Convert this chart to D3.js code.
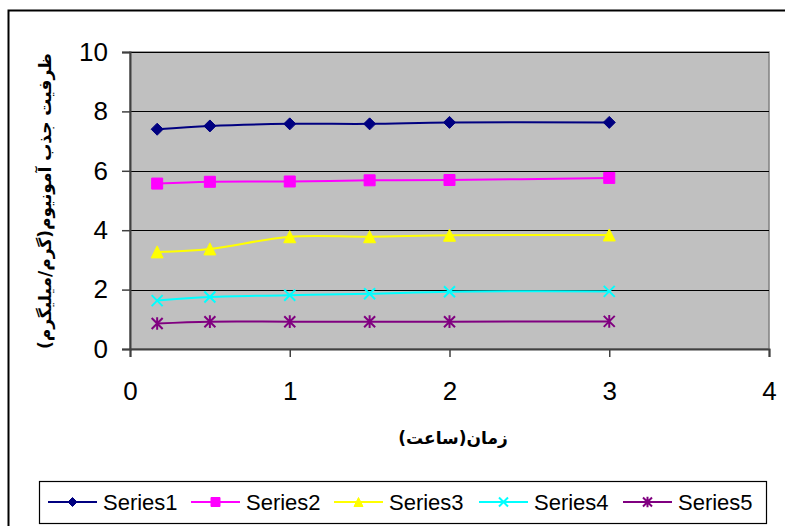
<!DOCTYPE html>
<html>
<head>
<meta charset="utf-8">
<script src="https://cdn.jsdelivr.net/npm/d3@7/dist/d3.min.js"></script>
<style>
  html, body { margin: 0; padding: 0; background: #fff; }
  svg { display: block; }
  text { font-family: "Liberation Sans", Arial, "DejaVu Sans", sans-serif; }
</style>
</head>
<body>
<svg id="chart" width="785" height="526"></svg>
<script>
// Contact time (hours)
const times = [0.17, 0.5, 1, 1.5, 2, 3];
// Ammonium adsorption capacity per series
const series1 = [7.40, 7.51, 7.58, 7.58, 7.63, 7.63];
const series2 = [5.57, 5.63, 5.64, 5.68, 5.69, 5.76];
const series3 = [3.27, 3.37, 3.78, 3.78, 3.83, 3.84];
const series4 = [1.63, 1.75, 1.81, 1.86, 1.93, 1.94];
const series5 = [0.86, 0.92, 0.92, 0.92, 0.92, 0.93];
const seriesNames = ["Series1", "Series2", "Series3", "Series4", "Series5"];
const xTicks = [0, 1, 2, 3, 4];
const yTicks = [0, 2, 4, 6, 8, 10];
const xTitle = "زمان(ساعت)";
const yTitle = "ظرفیت جذب آمونیوم(گرم/میلیگرم)";

const colors = ["#000080", "#FF00FF", "#FFFF00", "#00FFFF", "#800080"];
const shapes = ["diamond", "square", "triangle", "cross", "star"];
const allSeries = [series1, series2, series3, series4, series5];

const svg = d3.select("#chart");

// Outer chart frame (continues past the right and bottom edges)
svg.append("rect")
  .attr("x", 8.5).attr("y", 10.5).attr("width", 900).attr("height", 700)
  .attr("fill", "#fff").attr("stroke", "#000").attr("stroke-width", 2);

const plot = { left: 130, right: 769, top: 52, bottom: 349 };
const x = d3.scaleLinear().domain([0, 4]).range([plot.left, plot.right]);
const y = d3.scaleLinear().domain([0, 10]).range([plot.bottom, plot.top]);

// Plot area
svg.append("rect")
  .attr("x", plot.left).attr("y", plot.top)
  .attr("width", plot.right - plot.left).attr("height", plot.bottom - plot.top)
  .attr("fill", "#C0C0C0").attr("stroke", "#808080").attr("stroke-width", 1.5);

// Horizontal gridlines
svg.append("g").selectAll("line")
  .data(yTicks.filter(d => d > 0))
  .join("line")
  .attr("x1", plot.left).attr("x2", plot.right)
  .attr("y1", d => Math.round(y(d)) + 0.5).attr("y2", d => Math.round(y(d)) + 0.5)
  .attr("stroke", "#000").attr("stroke-width", 1.2);

// Axes
const yAxis = d3.axisLeft(y).tickValues(yTicks).tickFormat(d3.format("d"))
  .tickSize(8).tickPadding(14);
const xAxis = d3.axisBottom(x).tickValues(xTicks).tickFormat(d3.format("d"))
  .tickSize(8).tickPadding(25);

const gy = svg.append("g").attr("transform", `translate(${plot.left},0)`).call(yAxis);
const gx = svg.append("g").attr("transform", `translate(0,${plot.bottom})`).call(xAxis);
[gx, gy].forEach(g => {
  g.select(".domain").attr("stroke", "#404040").attr("stroke-width", 2);
  g.selectAll(".tick line").attr("stroke", "#404040").attr("stroke-width", 1.5);
  g.selectAll(".tick text")
    .attr("fill", "#000")
    .style("font-family", "'Liberation Sans', Arial, sans-serif")
    .style("font-size", "26px");
});

// Axis titles
svg.append("text")
  .attr("x", 453).attr("y", 438)
  .attr("text-anchor", "middle").attr("dominant-baseline", "central")
  .attr("direction", "rtl")
  .style("font-family", "'DejaVu Sans', sans-serif")
  .style("font-size", "17px").style("font-weight", "bold")
  .text(xTitle);

svg.append("text")
  .attr("transform", "translate(45,201) rotate(-90)")
  .attr("text-anchor", "middle").attr("dominant-baseline", "central")
  .style("font-family", "'DejaVu Sans', sans-serif")
  .style("font-size", "17px").style("font-weight", "bold")
  .text(yTitle);

// Marker paths centered on (0,0)
function markerPath(shape, r) {
  switch (shape) {
    case "diamond": return `M0,${-r}L${r},0L0,${r}L${-r},0Z`;
    case "square": return `M${-r},${-r}H${r}V${r}H${-r}Z`;
    case "triangle": return `M0,${-r}L${r},${r}L${-r},${r}Z`;
    case "cross": return `M${-r},${-r}L${r},${r}M${-r},${r}L${r},${-r}`;
    case "star": return `M${-r},${-r}L${r},${r}M${-r},${r}L${r},${-r}M0,${-r * 1.15}V${r * 1.15}`;
  }
}
function drawMarker(g, shape, color, r) {
  const open = shape === "cross" || shape === "star";
  g.append("path")
    .attr("d", markerPath(shape, r))
    .attr("fill", open ? "none" : color)
    .attr("stroke", color)
    .attr("stroke-width", open ? 2 : 1);
}

const line = d3.line()
  .x(d => x(d[0])).y(d => y(d[1]))
  .curve(d3.curveCatmullRom.alpha(0.5));

const markerR = [6, 5.5, 6, 5.5, 5.5];

allSeries.forEach((vals, i) => {
  const pts = times.map((t, j) => [t, vals[j]]);
  const g = svg.append("g");
  g.append("path")
    .attr("d", line(pts))
    .attr("fill", "none")
    .attr("stroke", colors[i])
    .attr("stroke-width", 2);
  pts.forEach(p => {
    const m = g.append("g").attr("transform", `translate(${x(p[0])},${y(p[1])})`);
    drawMarker(m, shapes[i], colors[i], markerR[i]);
  });
});

// Legend
const legend = svg.append("g");
legend.append("rect")
  .attr("x", 39.5).attr("y", 481.5).attr("width", 727).attr("height", 42)
  .attr("fill", "#fff").attr("stroke", "#000").attr("stroke-width", 1.2);

const legendX = [48, 191, 334, 479, 623];
const legendY = 502;
seriesNames.forEach((name, i) => {
  const g = legend.append("g").attr("transform", `translate(${legendX[i]},${legendY})`);
  g.append("line").attr("x1", 0).attr("x2", 49).attr("y1", 0).attr("y2", 0)
    .attr("stroke", colors[i]).attr("stroke-width", 2);
  const m = g.append("g").attr("transform", "translate(24.5,0)");
  drawMarker(m, shapes[i], colors[i], 4.5);
  g.append("text")
    .attr("x", 55).attr("y", 0)
    .attr("dominant-baseline", "central")
    .style("font-size", "22px")
    .attr("fill", "#000")
    .text(name);
});
</script>
</body>
</html>
